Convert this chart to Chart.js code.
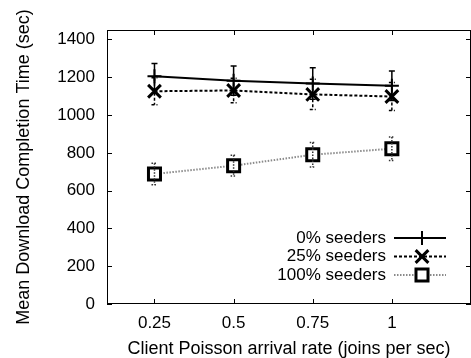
<!DOCTYPE html>
<html>
<head>
<meta charset="utf-8">
<script src="https://cdn.jsdelivr.net/npm/chart.js@4"></script>
<style>
  html, body { margin: 0; padding: 0; background: #fff; }
  #wrap { width: 471px; height: 358px; }
</style>
</head>
<body>
<div id="wrap"><canvas id="chart" width="471" height="358"></canvas></div>
<script>
// values
const rates = [0.25, 0.5, 0.75, 1];
const seeders0 = [1205, 1182, 1167, 1155];
const seeders0Err = [68, 77, 83, 78];
const seeders25 = [1126, 1130, 1109, 1098];
const seeders25Err = [71, 65, 80, 74];
const seeders100 = [688, 732, 790, 822];
const seeders100Err = [57, 55, 65, 62];
const xTicks = [0.25, 0.5, 0.75, 1];
const yTicks = [0, 200, 400, 600, 800, 1000, 1200, 1400];
const seriesLabels = ['0% seeders', '25% seeders', '100% seeders'];

const FONT = '"Liberation Sans", Arial, Helvetica, sans-serif';

function points(ys) {
  return rates.map((x, i) => ({ x: x, y: ys[i] }));
}

// series look: line colour, dash, marker
const looks = [
  { color: '#000', errColor: '#000', dash: [], width: 2, pointStyle: 'cross', radius: 7, pointWidth: 2 },
  { color: '#000', errColor: '#000', dash: [3, 2], width: 2, pointStyle: 'crossRot', radius: 9, pointWidth: 3 },
  { color: '#8a8a8a', errColor: '#333', dash: [1.5, 1.5], width: 2, pointStyle: 'rect', radius: 8.5, pointWidth: 3 }
];
const values = [seeders0, seeders25, seeders100];
const errors = [seeders0Err, seeders25Err, seeders100Err];

// frame with inward ticks, error bars and the legend inside the plot
const gnuplotLook = {
  id: 'gnuplotLook',
  afterDatasetsDraw(chart) {
    const ctx = chart.ctx;
    const xs = chart.scales.x, ys = chart.scales.y;
    const a = chart.chartArea;

    // error bars
    values.forEach((vals, s) => {
      const lk = looks[s];
      ctx.save();
      ctx.strokeStyle = lk.errColor;
      ctx.lineWidth = 1.5;
      ctx.setLineDash(lk.dash);
      vals.forEach((v, i) => {
        const px = xs.getPixelForValue(rates[i]);
        const top = ys.getPixelForValue(v + errors[s][i]);
        const bot = ys.getPixelForValue(v - errors[s][i]);
        ctx.beginPath();
        ctx.moveTo(px, top); ctx.lineTo(px, bot);
        ctx.moveTo(px - 3, top); ctx.lineTo(px + 3, top);
        ctx.moveTo(px - 3, bot); ctx.lineTo(px + 3, bot);
        ctx.stroke();
      });
      ctx.restore();
    });

    // box and mirrored inward ticks
    ctx.save();
    ctx.strokeStyle = '#000';
    ctx.lineWidth = 1;
    ctx.strokeRect(a.left + 0.5, a.top + 0.5, a.right - a.left - 1, a.bottom - a.top - 1);
    ctx.beginPath();
    xTicks.forEach(v => {
      const px = Math.round(xs.getPixelForValue(v)) + 0.5;
      ctx.moveTo(px, a.bottom); ctx.lineTo(px, a.bottom - 5);
      ctx.moveTo(px, a.top); ctx.lineTo(px, a.top + 5);
    });
    yTicks.forEach(v => {
      const py = Math.round(ys.getPixelForValue(v)) + 0.5;
      ctx.moveTo(a.left, py); ctx.lineTo(a.left + 5, py);
      ctx.moveTo(a.right, py); ctx.lineTo(a.right - 5, py);
    });
    ctx.stroke();
    ctx.restore();

    // legend, bottom right inside the box
    seriesLabels.forEach((label, s) => {
      const lk = looks[s];
      const y = a.bottom - 66 + s * 18.5;
      const tx = a.right - 85;
      ctx.save();
      ctx.font = '17px ' + FONT;
      ctx.fillStyle = '#000';
      ctx.textAlign = 'right';
      ctx.textBaseline = 'middle';
      ctx.fillText(label, tx, y);
      ctx.strokeStyle = lk.color;
      ctx.lineWidth = lk.width;
      ctx.setLineDash(lk.dash);
      ctx.beginPath();
      ctx.moveTo(tx + 8, y); ctx.lineTo(tx + 60, y);
      ctx.stroke();
      ctx.setLineDash([]);
      const mx = tx + 36;
      if (Chart.helpers && Chart.helpers.drawPoint) {
        ctx.strokeStyle = '#000';
        ctx.fillStyle = '#fff';
        ctx.lineWidth = lk.pointWidth;
        Chart.helpers.drawPoint(ctx, { pointStyle: lk.pointStyle, radius: lk.radius, rotation: 0, borderWidth: lk.pointWidth }, mx, y);
      }
      ctx.restore();
    });
  }
};

const ctx = document.getElementById('chart').getContext('2d');

const config = {
  type: 'line',
  data: {
    datasets: values.map((vals, s) => ({
      label: seriesLabels[s],
      data: points(vals),
      borderColor: looks[s].color,
      borderWidth: looks[s].width,
      borderDash: looks[s].dash,
      pointStyle: looks[s].pointStyle,
      pointRadius: looks[s].radius,
      pointBorderWidth: looks[s].pointWidth,
      pointBorderColor: '#000',
      pointBackgroundColor: '#fff',
      fill: false,
      tension: 0
    }))
  },
  options: {
    responsive: false,
    animation: false,
    layout: { autoPadding: false, padding: { top: 30, right: 0, left: 0, bottom: 0 } },
    plugins: {
      legend: { display: false },
      tooltip: { enabled: false }
    },
    scales: {
      x: {
        type: 'linear',
        min: 0.1,
        max: 1.25,
        afterBuildTicks: s => { s.ticks = xTicks.map(v => ({ value: v })); },
        afterFit: s => { s.height = 54; s.paddingLeft = 0; s.paddingRight = 0; },
        grid: { display: false, drawTicks: false },
        border: { display: false },
        ticks: {
          color: '#000',
          padding: 9,
          maxRotation: 0,
          font: { family: FONT, size: 17 },
          callback: v => String(v)
        },
        title: {
          display: true,
          text: 'Client Poisson arrival rate (joins per sec)',
          color: '#000',
          font: { family: FONT, size: 18, lineHeight: 1 },
          padding: { top: 0, bottom: 0 }
        }
      },
      y: {
        min: 0,
        max: 1450,
        afterBuildTicks: s => { s.ticks = yTicks.map(v => ({ value: v })); },
        afterFit: s => { s.width = 107; s.paddingTop = 0; s.paddingBottom = 0; },
        grid: { display: false, drawTicks: false },
        border: { display: false },
        ticks: {
          color: '#000',
          padding: 12,
          font: { family: FONT, size: 17 },
          callback: v => String(v)
        },
        title: {
          display: true,
          text: 'Mean Download Completion Time (sec)',
          color: '#000',
          font: { family: FONT, size: 18, lineHeight: 1 },
          padding: { top: 15, bottom: 0 }
        }
      }
    }
  },
  plugins: [gnuplotLook]
};

const downloadChart = new Chart(ctx, config);
</script>
</body>
</html>
